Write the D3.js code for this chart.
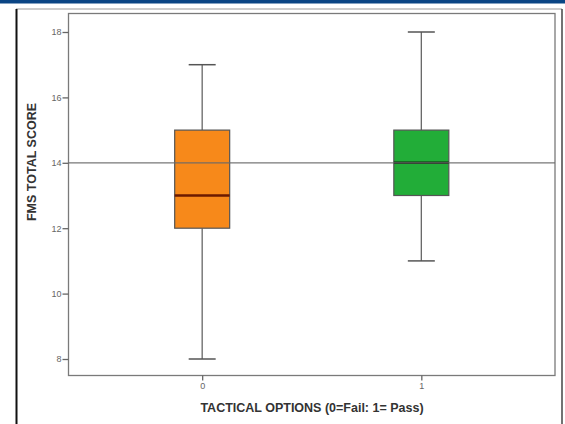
<!DOCTYPE html>
<html><head><meta charset="utf-8">
<script src="https://cdn.jsdelivr.net/npm/d3@7"></script>
<style>body{margin:0;background:#fff;}svg{display:block;}</style>
</head><body>
<svg id="c" width="565" height="424"></svg>
<script>
const categories = ["0", "1"];
const mins = [8, 11];
const q1s = [12, 13];
const medians = [13, 14];
const q3s = [15, 15];
const maxs = [17, 18];
const refLine = 14;
const yTicks = [8, 10, 12, 14, 16, 18];
const boxColors = ["#f7891a", "#22ad38"];
const medianColors = ["#6b1a00", "#0d2a0d"];

const svg = d3.select("#c");
svg.append("rect").attr("x",0).attr("y",0).attr("width",565).attr("height",3.5).attr("fill","#0a4584");
svg.append("line").attr("x1",16).attr("x2",562).attr("y1",9).attr("y2",9).attr("stroke","#9a9a9a").attr("stroke-width",1.2);
svg.append("line").attr("x1",16.5).attr("x2",16.5).attr("y1",9).attr("y2",424).attr("stroke","#111").attr("stroke-width",2);
svg.append("line").attr("x1",562).attr("x2",562).attr("y1",9).attr("y2",424).attr("stroke","#444").attr("stroke-width",1.5);

const L = 68.5, R = 555, T = 13.5, B = 375.5;
const y = d3.scaleLinear().domain([8, 18]).range([359, 32]);
const x = d3.scalePoint().domain(categories).range([L, R]).padding(0.61);

svg.append("rect").attr("x",L).attr("y",T).attr("width",R-L).attr("height",B-T)
  .attr("fill","none").attr("stroke","#7a7a7a").attr("stroke-width",1.3);

const font = "Liberation Sans, Arial, sans-serif";
const yAxis = svg.append("g").attr("transform",`translate(${L},0)`)
  .call(d3.axisLeft(y).tickValues(yTicks).tickSize(6).tickPadding(1).tickFormat(d3.format("d")));
yAxis.select(".domain").remove();
yAxis.selectAll("line").attr("stroke","#666").attr("stroke-width",1.3);
yAxis.selectAll("text").attr("fill","#666").style("font-family",font).style("font-size","9px");

const xAxis = svg.append("g").attr("transform",`translate(0,${B})`)
  .call(d3.axisBottom(x).tickSize(5).tickPadding(2));
xAxis.select(".domain").remove();
xAxis.selectAll("line").attr("stroke","#666").attr("stroke-width",1.3);
xAxis.selectAll("text").attr("fill","#666").style("font-family",font).style("font-size","9px");

const bw = 55, cw = 27;
const g = svg.append("g");
categories.forEach((c, i) => {
  const cx = x(c);
  g.append("line").attr("x1",cx).attr("x2",cx).attr("y1",y(maxs[i])).attr("y2",y(q3s[i])).attr("stroke","#666").attr("stroke-width",1.3);
  g.append("line").attr("x1",cx).attr("x2",cx).attr("y1",y(q1s[i])).attr("y2",y(mins[i])).attr("stroke","#666").attr("stroke-width",1.3);
  g.append("line").attr("x1",cx-cw/2).attr("x2",cx+cw/2).attr("y1",y(maxs[i])).attr("y2",y(maxs[i])).attr("stroke","#555").attr("stroke-width",1.5);
  g.append("line").attr("x1",cx-cw/2).attr("x2",cx+cw/2).attr("y1",y(mins[i])).attr("y2",y(mins[i])).attr("stroke","#555").attr("stroke-width",1.5);
  g.append("rect").attr("x",cx-bw/2).attr("y",y(q3s[i])).attr("width",bw).attr("height",y(q1s[i])-y(q3s[i]))
    .attr("fill",boxColors[i]).attr("stroke","#555").attr("stroke-width",1.2);
  g.append("line").attr("x1",cx-bw/2).attr("x2",cx+bw/2).attr("y1",y(medians[i])).attr("y2",y(medians[i])).attr("stroke",medianColors[i]).attr("stroke-width",2.5);
});

svg.append("line").attr("x1",L).attr("x2",R).attr("y1",y(refLine)).attr("y2",y(refLine)).attr("stroke","#6a6a6a").attr("stroke-width",1.2).attr("opacity",0.9);

svg.append("text").attr("x",312).attr("y",412).attr("text-anchor","middle")
  .style("font-family",font).style("font-size","12.5px").style("font-weight","bold").attr("fill","#333")
  .text("TACTICAL OPTIONS (0=Fail: 1= Pass)");
svg.append("text").attr("transform","translate(35.5,162) rotate(-90)").attr("text-anchor","middle")
  .style("font-family",font).style("font-size","12.5px").style("font-weight","bold").attr("fill","#333")
  .text("FMS TOTAL SCORE");
</script>
</body></html>
